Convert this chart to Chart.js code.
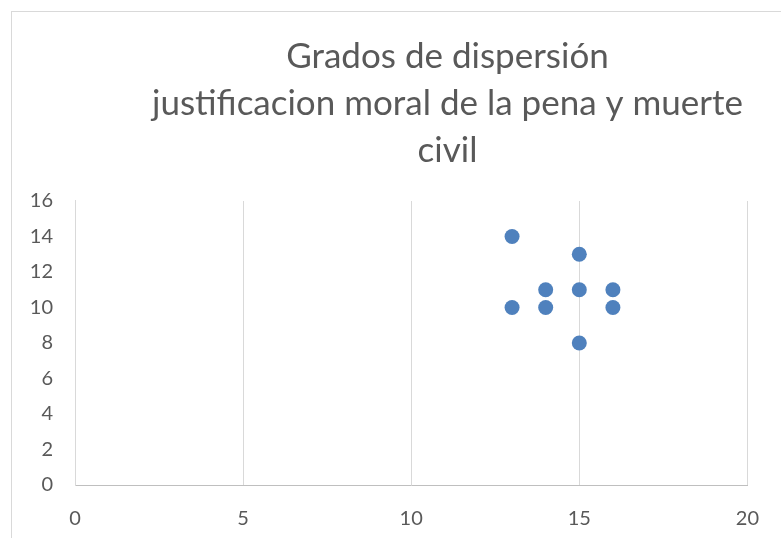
<!DOCTYPE html>
<html>
<head>
<meta charset="utf-8">
<script src="https://cdn.jsdelivr.net/npm/chart.js@4"></script>
<style>
  html, body { margin: 0; padding: 0; background: #fff; overflow: hidden; }
  #frame { position: absolute; left: 11px; top: 11px; width: 900px; height: 700px; border: 1px solid #d9d9d9; }
  #myChart { position: absolute; left: 0; top: 0; }
</style>
</head>
<body>
<div id="frame"></div>
<canvas id="myChart" width="781" height="538"></canvas>
<script>
// scatter data
const xVals = [13, 15, 14, 15, 16, 13, 14, 16, 15];
const yVals = [14, 13, 11, 11, 11, 10, 10, 10, 8];
const titleLines = ["Grados de dispersión", "justificacion moral de la pena y muerte", "civil"];

const points = xVals.map((x, i) => ({ x: x, y: yVals[i] }));

// shift the title so it sits where Excel put it
const titleShift = {
    id: 'titleShift',
    afterLayout(chart) {
        const t = chart.titleBlock;
        if (t) { t.left += 72; t.right += 72; }
    }
};

const ctx = document.getElementById('myChart').getContext('2d');
const myChart = new Chart(ctx, {
    type: 'scatter',
    data: {
        datasets: [{
            data: points,
            backgroundColor: '#4f81bd',
            borderColor: '#4f81bd',
            borderWidth: 0,
            pointRadius: 7.5,
            pointHoverRadius: 7.5
        }]
    },
    options: {
        responsive: false,
        animation: false,
        layout: { padding: { left: 0, right: 30, top: 0, bottom: 0 } },
        plugins: {
            legend: { display: false },
            tooltip: { enabled: false },
            title: {
                display: true,
                text: titleLines,
                color: '#595959',
                font: { family: 'Lato', size: 35, weight: 'normal', lineHeight: 47 / 35 },
                padding: { top: 33, bottom: 27 }
            }
        },
        scales: {
            x: {
                type: 'linear',
                min: 0,
                max: 20,
                ticks: { stepSize: 5, color: '#595959', font: { family: 'Lato', size: 20 }, padding: 22 },
                grid: { color: '#d9d9d9', drawTicks: false },
                border: { color: '#bfbfbf' },
                afterFit(scale) { scale.height = 53; }
            },
            y: {
                min: 0,
                max: 16,
                ticks: { stepSize: 2, color: '#595959', font: { family: 'Lato', size: 20 }, padding: 22 },
                grid: { display: false, drawTicks: false },
                border: { color: '#d9d9d9' },
                afterFit(scale) { scale.width = 75; }
            }
        }
    },
    plugins: [titleShift]
});
</script>
</body>
</html>
